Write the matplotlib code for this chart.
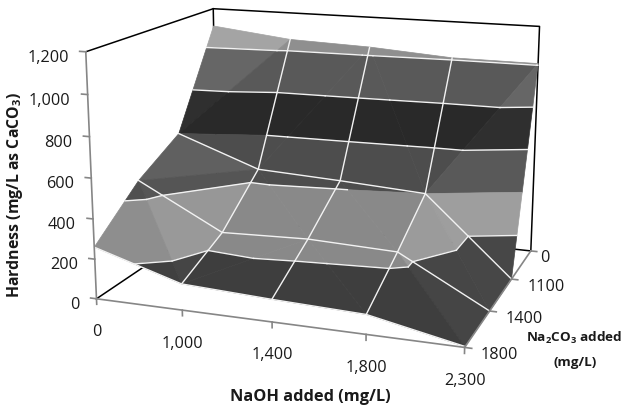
#hardness surface for NaOH and Na2CO3 dosing

import numpy as np
import matplotlib
matplotlib.use('Agg')
import matplotlib.pyplot as plt
from mpl_toolkits.mplot3d import proj3d
from mpl_toolkits.mplot3d.art3d import Poly3DCollection

plt.rcParams['font.family'] = ['Open Sans', 'DejaVu Sans']
plt.rcParams['mathtext.fontset'] = 'custom'
plt.rcParams['mathtext.rm'] = 'Open Sans:bold'
plt.rcParams['mathtext.bf'] = 'Open Sans:bold'

naoh_labels = ['0', '1,000', '1,400', '1,800', '2,300']
na2co3_labels = ['1800', '1400', '1100', '0']
hardness_ticks = [0, 200, 400, 600, 800, 1000, 1200]

# one list per Na2CO3 dose, values along NaOH
hardness_1800 = [260, 130, 110, 95, 5]
hardness_1400 = [465, 240, 255, 240, 0]
hardness_1100 = [600, 445, 425, 400, 0]
hardness_0 = [1104, 1055, 1040, 1010, 1008]

band_colors = ['#3e3e3e', '#898989', '#4d4d4d', '#292929', '#595959', '#8f8f8f']
# triangles that look brighter: (row, col, triangle) and how much
lit = {(2, 0, 0): 1.15, (2, 3, 1): 1.15, (1, 0, 0): 1.25, (1, 0, 1): 1.1,
       (1, 3, 0): 1.15, (1, 3, 1): 1.13, (0, 0, 0): 1.12, (0, 0, 1): 1.04, (0, 3, 0): 1.12}


def clip(poly, level, keep_above):
    """clip a polygon of (x, y, z) points against a z level"""
    out = []
    for i in range(len(poly)):
        a, b = poly[i], poly[(i + 1) % len(poly)]
        a_in = a[2] >= level if keep_above else a[2] <= level
        b_in = b[2] >= level if keep_above else b[2] <= level
        if a_in:
            out.append(a)
        if a_in != b_in:
            t = (level - a[2]) / (b[2] - a[2])
            out.append(tuple(a[k] + t * (b[k] - a[k]) for k in range(3)))
    return out


def level_segment(tri, level):
    """where a triangle crosses a z level"""
    found = []
    for i in range(3):
        a, b = tri[i], tri[(i + 1) % 3]
        if (a[2] - level) * (b[2] - level) < 0:
            t = (level - a[2]) / (b[2] - a[2])
            found.append(tuple(a[k] + t * (b[k] - a[k]) for k in range(3)))
    return found if len(found) == 2 else None


Z = np.array([hardness_1800, hardness_1400, hardness_1100, hardness_0], dtype=float)

fig = plt.figure(figsize=(6.24, 4.06), dpi=100)
ax = fig.add_axes([0, 0, 1, 1], projection='3d', computed_zorder=False)
ax.set_xlim(0, 4, view_margin=0)
ax.set_ylim(0, 3, view_margin=0)
ax.set_zlim(0, 1200, view_margin=0)
ax.view_init(elev=14.523, azim=-70.281)
ax.set_proj_type('persp', focal_length=0.507)
ax.set_box_aspect((1, 0.786, 0.662))
ax.set_axis_off()

scale, off_x, off_y = 2760.6, 324.5, 246.4
lim = ax.viewLim
side = scale * (lim.x1 - lim.x0)
ax.set_position([(off_x + scale * lim.x0) / 624, (off_y + scale * lim.y0) / 406, side / 624, side / 406])

# back walls and floor edge
black = dict(color='black', lw=1.1, zorder=1, clip_on=False)
ax.plot([0, 0, 4, 4], [0, 3, 3, 3], [1200, 1200, 1200, 0], **black)
ax.plot([0, 0], [3, 3], [1200, 0], **black)
ax.plot([0, 0, 4], [0, 3, 3], [0, 0, 0], **black)

polys, colors, contours = [], [], []
for r in range(3):
    for c in range(4):
        p00 = (c, r, Z[r, c])
        p10 = (c + 1, r, Z[r, c + 1])
        p01 = (c, r + 1, Z[r + 1, c])
        p11 = (c + 1, r + 1, Z[r + 1, c + 1])
        # the diagonal with the higher sum splits the cell
        if p01[2] + p10[2] >= p00[2] + p11[2]:
            tris = [(p01, p11, p10), (p01, p10, p00)]
        else:
            tris = [(p00, p11, p01), (p00, p10, p11)]
        for t, tri in enumerate(tris):
            for b, col in enumerate(band_colors):
                lo, hi = hardness_ticks[b], hardness_ticks[b + 1]
                poly = clip(clip(list(tri), lo, True), hi, False)
                if len(poly) < 3:
                    continue
                rgb = np.array(matplotlib.colors.to_rgb(col))
                rgb = np.clip(rgb * lit.get((r, c, t), 1), 0, 1)
                polys.append(poly)
                colors.append(rgb)
            for level in hardness_ticks[1:-1]:
                seg = level_segment(tri, level)
                if seg:
                    contours.append(seg)

surface = Poly3DCollection(polys, facecolors=colors, edgecolors=colors, linewidths=0.5, zorder=2)
ax.add_collection3d(surface)

white = dict(color='#f2f2f2', lw=1.0, zorder=3, clip_on=False)
for seg in contours:
    ax.plot([seg[0][0], seg[1][0]], [seg[0][1], seg[1][1]], [seg[0][2], seg[1][2]], **white)
for r in range(3):
    ax.plot(range(5), [r] * 5, Z[r], **white)
for c in range(1, 4):
    ax.plot([c] * 4, range(4), Z[:, c], **white)

# front axes with their ticks
gray = dict(color='#868686', lw=1.2, zorder=4, clip_on=False)
ax.plot([0, 0], [0, 0], [0, 1200], **gray)
ax.plot([0, 4, 4], [0, 0, 3], [0, 0, 0], **gray)
for h in hardness_ticks:
    ax.plot([-0.07, 0], [0, 0], [h, h], **gray)
for i in range(5):
    ax.plot([i, i], [0, 0], [0, -28], **gray)
for i in range(4):
    ax.plot([4, 4.07], [i, i], [0, 0], **gray)


def label_at(x, y, z, text, dx, dy, **kw):
    u, v, _ = proj3d.proj_transform(x, y, z, ax.get_proj())
    px, py = ax.transData.transform((u, v))
    fig.text((px + dx) / 624, (py + dy) / 406, text, **kw)


tick_font = dict(fontsize=11.7, color='#1a1a1a')
for h in hardness_ticks:
    label_at(0, 0, h, f'{h:,}', -17, -5, ha='right', va='center', **tick_font)
for i, name in enumerate(naoh_labels):
    label_at(i, 0, 0, name, 0, -32.5, ha='center', va='center', **tick_font)
for i, name in enumerate(na2co3_labels):
    label_at(4, i, 0, name, 9 if name == '0' else 16, -6.5, ha='left', va='center', **tick_font)

title_font = dict(fontsize=11.8, fontweight='bold', color='#1a1a1a')
fig.text(15 / 624, 1 - 195 / 406, r'Hardness (mg/L as CaCO$_{\mathbf{3}}$)', rotation=90, ha='center', va='center',
         fontsize=11.4, fontweight='bold', color='#1a1a1a')
fig.text(310 / 624, 1 - 397 / 406, 'NaOH added (mg/L)', ha='center', va='center', **title_font)
side_font = dict(fontsize=9.7, fontweight='bold', color='#1a1a1a')
fig.text(574 / 624, 1 - 338 / 406, r'Na$_{\mathbf{2}}$CO$_{\mathbf{3}}$ added', ha='center', va='center', **side_font)
fig.text(575 / 624, 1 - 363 / 406, '(mg/L)', ha='center', va='center', **side_font)

fig.savefig('out.png', dpi=100)
